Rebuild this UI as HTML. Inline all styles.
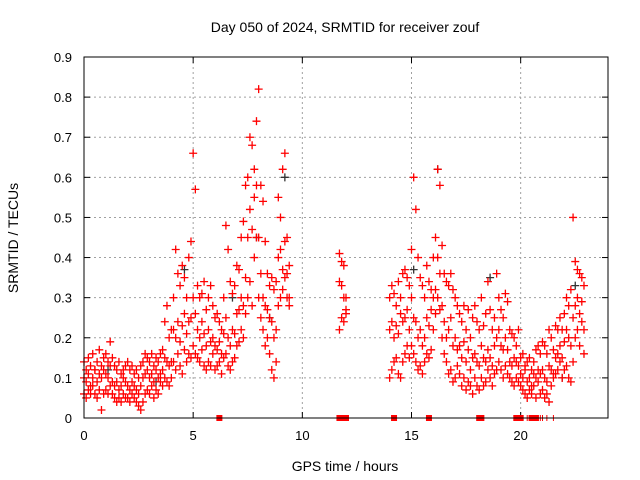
<!DOCTYPE html>
<html><head><meta charset="utf-8"><style>
html,body{margin:0;padding:0;background:#fff;}
svg{display:block;font-family:"Liberation Sans",sans-serif;}
</style></head><body>
<svg id="chart" width="640" height="480" viewBox="0 0 640 480">
<rect width="640" height="480" fill="#fff"/>
<text x="345" y="32" font-size="14" text-anchor="middle">Day 050 of 2024, SRMTID for receiver zouf</text>
<text x="345" y="471" font-size="14" text-anchor="middle">GPS time / hours</text>
<text transform="translate(18,238) rotate(-90)" font-size="14" text-anchor="middle">SRMTID / TECUs</text>
<g id="grid"></g><g id="ticks"></g><g id="marks"></g>
<rect x="84" y="57" width="524" height="361" fill="none" stroke="#000" stroke-width="1"/>
</svg>
<script>
const xTicks=[0,5,10,15,20];
const yTicks=[0,0.1,0.2,0.3,0.4,0.5,0.6,0.7,0.8,0.9];
const yTickLabels=["0","0.1","0.2","0.3","0.4","0.5","0.6","0.7","0.8","0.9"];
const segStarts=[0,11.7,14.0];
const upperA=[.14,.12,.15,.13,.16,.12,.14,.17,.13,.15,.16,.14,.19,.15,.13,.12,.14,.11,.12,.13,.14,.12,.13,.11,.12,.10,.13,.14,.16,.15,.14,.16,.13,.15,.14,.16,.17,.24,.28,.20,.22,.30,.42,.36,.33,.38,.35,.30,.40,.44,.66,.57,.33,.30,.31,.34,.27,.30,.33,.28,.25,.26,.24,.22,.30,.48,.42,.34,.31,.33,.38,.37,.45,.49,.58,.60,.70,.68,.62,.74,.82,.58,.54,.44,.36,.33,.35,.32,.34,.55,.50,.62,.66,.45,.38];
const midA=[.10,.09,.11,.08,.10,.12,.09,.11,.10,.12,.11,.10,.13,.09,.08,.09,.07,.08,.10,.09,.08,.07,.09,.08,.07,.06,.08,.10,.11,.12,.10,.11,.09,.12,.10,.11,.12,.15,.14,.13,.14,.22,.20,.24,.19,.23,.26,.21,.24,.25,.30,.26,.22,.20,.24,.21,.18,.22,.19,.20,.18,.17,.19,.16,.21,.25,.20,.18,.22,.21,.26,.27,.30,.28,.35,.45,.52,.47,.55,.58,.45,.36,.30,.28,.27,.25,.24,.20,.22,.40,.42,.37,.44,.36,.30];
const lowerA=[.06,.05,.07,.06,.08,.06,.05,.07,.02,.06,.07,.06,.08,.06,.05,.04,.05,.04,.06,.05,.05,.04,.06,.05,.04,.03,.02,.04,.06,.07,.06,.08,.05,.07,.06,.09,.08,.10,.09,.08,.10,.14,.12,.16,.13,.11,.17,.14,.16,.15,.18,.16,.15,.14,.17,.13,.12,.14,.13,.16,.12,.13,.14,.11,.15,.16,.13,.12,.14,.15,.18,.19,.22,.20,.26,.30,.34,.28,.40,.45,.30,.25,.22,.18,.20,.16,.12,.10,.14,.28,.30,.32,.35,.30,.28];
const upperB=[.41,.39,.38,.30];
const midB=[.34,.33,.30,.26];
const lowerB=[.22,.25,.24,.27];
const upperC=[.30,.33,.31,.28,.34,.30,.36,.37,.35,.33,.42,.60,.52,.40,.35,.33,.30,.38,.34,.32,.40,.45,.62,.58,.43,.36,.34,.33,.36,.32,.30,.28,.26,.24,.28,.22,.27,.20,.25,.28,.24,.22,.30,.23,.26,.34,.27,.22,.25,.36,.30,.27,.25,.31,.29,.22,.21,.20,.18,.22,.15,.16,.13,.14,.15,.12,.14,.17,.18,.16,.19,.18,.16,.22,.20,.17,.23,.22,.25,.22,.26,.30,.28,.32,.50,.39,.37,.36,.35,.33];
const midC=[.22,.24,.20,.23,.21,.26,.24,.25,.27,.22,.30,.25,.24,.20,.22,.18,.20,.25,.23,.27,.30,.32,.40,.36,.28,.24,.20,.22,.25,.18,.20,.17,.18,.15,.19,.14,.17,.12,.15,.16,.14,.13,.18,.15,.14,.17,.15,.13,.18,.20,.22,.18,.17,.20,.17,.14,.13,.15,.14,.13,.11,.10,.12,.09,.10,.08,.11,.10,.12,.11,.12,.10,.09,.13,.12,.11,.15,.16,.18,.15,.19,.22,.20,.18,.25,.28,.30,.26,.29,.22];
const lowerC=[.10,.12,.14,.15,.11,.10,.14,.16,.18,.15,.18,.16,.14,.12,.13,.11,.14,.16,.15,.17,.22,.26,.30,.27,.20,.16,.14,.11,.12,.09,.10,.13,.11,.08,.10,.07,.09,.08,.06,.10,.08,.07,.10,.08,.09,.12,.10,.08,.11,.12,.14,.12,.10,.13,.11,.10,.09,.08,.10,.09,.08,.07,.06,.05,.07,.06,.08,.05,.09,.06,.07,.05,.06,.04,.08,.10,.11,.12,.14,.10,.12,.13,.10,.09,.14,.20,.22,.18,.24,.16];
const blackHours=[4.6,6.8,7.9,8.5,9.2,15.1,16.2,18.6,21.9,22.5,1.1,3.3];
const blackValues=[.37,.30,.45,.25,.60,.37,.62,.35,.10,.33,.12,.09];
const flagHours=[6.2,11.7,11.8,12.0,14.2,15.8,18.1,18.2,19.8,19.9,20.0,20.5,20.6,20.7];
const flagTickHours=[20.3,20.8,20.9,21.0,21.2,21.5];

const X0=84,X1=608,Y0=418,Y1=57;
const xs=h=>X0+h*(X1-X0)/24;
const ys=v=>Y0-v*(Y0-Y1)/0.9;
const NS="http://www.w3.org/2000/svg";
function mk(tag,attrs,parent){const e=document.createElementNS(NS,tag);for(const k in attrs)e.setAttribute(k,attrs[k]);parent.appendChild(e);return e;}
const grid=document.getElementById('grid'),ticks=document.getElementById('ticks'),marks=document.getElementById('marks');
xTicks.forEach(t=>{
  const x=xs(t);
  if(t>0){const g=mk('line',{x1:x,x2:x,y1:Y1,y2:Y0,stroke:'#a0a0a0','stroke-dasharray':'2,3'},grid);
  
  }
  const l=mk('text',{x:x,y:Y0+22,'font-size':13,'text-anchor':'middle'},ticks);l.textContent=t;
  
  
  mk('line',{x1:x,x2:x,y1:Y0,y2:Y0-6,stroke:'#000'},ticks);
  mk('line',{x1:x,x2:x,y1:Y1,y2:Y1+6,stroke:'#000'},ticks);
});
yTicks.forEach((t,i)=>{
  const y=ys(t);
  if(t>0&&t<0.9){const g=mk('line',{x1:X0,x2:X1,y1:y,y2:y,stroke:'#a0a0a0','stroke-dasharray':'2,3'},grid);
  
  }
  const l=mk('text',{x:X0-12,y:y+5,'font-size':13,'text-anchor':'end'},ticks);l.textContent=yTickLabels[i];
  
  
  mk('line',{x1:X0,x2:X0+6,y1:y,y2:y,stroke:'#000'},ticks);
  mk('line',{x1:X1,x2:X1-6,y1:y,y2:y,stroke:'#000'},ticks);
});
function cross(h,v,color,name){
  const x=xs(h),y=ys(v);
  const p=mk('path',{d:`M${x-4},${y}H${x+4}M${x},${y-4}V${y+4}`,stroke:color,'stroke-width':1.3,fill:'none'},marks);
  
  
}
blackHours.forEach((h,i)=>cross(h,blackValues[i],'#333','srmtid-point-gray'));
const segs=[[segStarts[0],[upperA,midA,lowerA]],[segStarts[1],[upperB,midB,lowerB]],[segStarts[2],[upperC,midC,lowerC]]];
segs.forEach(([s,series])=>series.forEach(arr=>arr.forEach((v,i)=>{if(v!=null)cross(s+i*0.1,v,'#f00','srmtid-point');})));
flagHours.forEach(h=>{
  const r=mk('rect',{x:xs(h)-3,y:Y0-3,width:6,height:6,fill:'#f00'},marks);
  
  
});
flagTickHours.forEach(h=>{
  const r=mk('line',{x1:xs(h),x2:xs(h),y1:Y0-3,y2:Y0+3,stroke:'#f00'},marks);
  
  
});
</script>
</body></html>
